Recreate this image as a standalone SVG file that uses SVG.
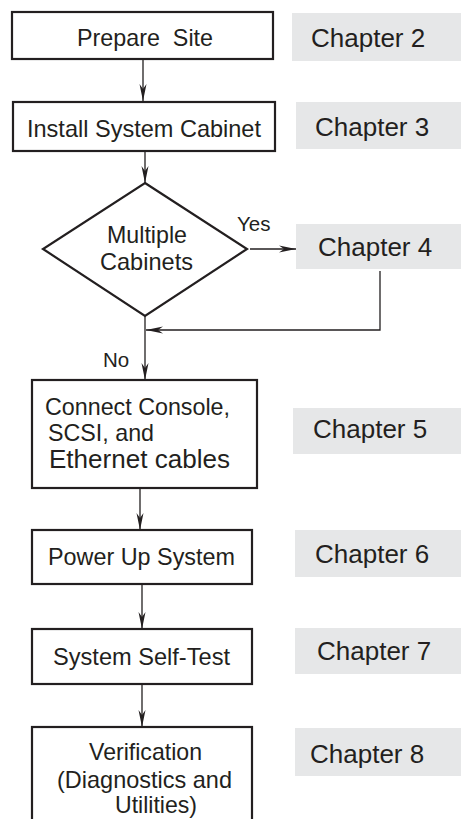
<svg xmlns="http://www.w3.org/2000/svg" width="461" height="819" viewBox="0 0 461 819">
<style>
.box{fill:#ffffff;stroke:#231f20;stroke-width:2.2}
.ch{fill:#e6e7e8;stroke:none}
.t{font-family:"Liberation Sans",Arial,sans-serif;font-size:23.4px;fill:#231f20}
.c{font-family:"Liberation Sans",Arial,sans-serif;font-size:26px;fill:#231f20}
.s{font-family:"Liberation Sans",Arial,sans-serif;font-size:20.5px;fill:#231f20}
.ln{fill:none;stroke:#231f20;stroke-width:1.3}
</style>
<defs>
<marker id="ah" viewBox="-17 -4 17 8" refX="0" refY="0" markerWidth="17" markerHeight="8" markerUnits="userSpaceOnUse" orient="auto">
<path d="M0,0 L-17,-3.5 L-12,0 L-17,3.5 Z" fill="#231f20"/>
</marker>
</defs>
<rect width="461" height="819" fill="#ffffff"/>
<g id="connectors">
<line class="ln" x1="143" y1="59" x2="143" y2="101" marker-end="url(#ah)"/>
<line class="ln" x1="145" y1="151" x2="145" y2="183" marker-end="url(#ah)"/>
<line class="ln" x1="250" y1="249" x2="296" y2="249" marker-end="url(#ah)"/>
<path class="ln" d="M380,271 V330 H146" marker-end="url(#ah)"/>
<line class="ln" x1="145" y1="316" x2="145" y2="380" marker-end="url(#ah)"/>
<line class="ln" x1="140" y1="488" x2="140" y2="530" marker-end="url(#ah)"/>
<line class="ln" x1="142" y1="584" x2="142" y2="629" marker-end="url(#ah)"/>
<line class="ln" x1="142" y1="684" x2="142" y2="727" marker-end="url(#ah)"/>
<text class="s" x="237" y="231">Yes</text>
<text class="s" x="103" y="367">No</text>
</g>
<g id="prepare">
<rect class="box" x="12" y="12" width="261" height="47"/>
<text class="t" x="77" y="46" textLength="136" lengthAdjust="spacingAndGlyphs" xml:space="preserve">Prepare  Site</text>
</g>
<g id="ch2">
<rect class="ch" x="292" y="13" width="169" height="48"/>
<text class="c" x="311" y="46.5">Chapter 2</text>
</g>
<g id="install">
<rect class="box" x="13" y="102" width="262" height="49"/>
<text class="t" x="27" y="137" textLength="234" lengthAdjust="spacingAndGlyphs">Install System Cabinet</text>
</g>
<g id="ch3">
<rect class="ch" x="296" y="102" width="165" height="47"/>
<text class="c" x="315" y="136">Chapter 3</text>
</g>
<g id="multiple">
<polygon class="box" points="145,183 247,249 145,316 43,249"/>
<text class="t" x="107" y="243" textLength="80" lengthAdjust="spacingAndGlyphs">Multiple</text>
<text class="t" x="100" y="270" textLength="93" lengthAdjust="spacingAndGlyphs">Cabinets</text>
</g>
<g id="ch4">
<rect class="ch" x="296" y="224" width="165" height="45"/>
<text class="c" x="318" y="256">Chapter 4</text>
</g>
<g id="connect">
<rect class="box" x="32" y="380" width="225" height="108"/>
<text class="t" x="45" y="415" textLength="185" lengthAdjust="spacingAndGlyphs">Connect Console,</text>
<text class="t" x="48" y="441" textLength="106" lengthAdjust="spacingAndGlyphs">SCSI, and</text>
<text class="t" x="49" y="468" style="font-size:25px" textLength="181" lengthAdjust="spacingAndGlyphs">Ethernet cables</text>
</g>
<g id="ch5">
<rect class="ch" x="293" y="408" width="168" height="46"/>
<text class="c" x="313" y="438">Chapter 5</text>
</g>
<g id="power">
<rect class="box" x="32" y="530" width="220" height="54"/>
<text class="t" x="48" y="565" textLength="187" lengthAdjust="spacingAndGlyphs">Power Up System</text>
</g>
<g id="ch6">
<rect class="ch" x="295" y="530" width="166" height="47"/>
<text class="c" x="315" y="563">Chapter 6</text>
</g>
<g id="selftest">
<rect class="box" x="32" y="629" width="220" height="55"/>
<text class="t" x="53" y="665" textLength="177" lengthAdjust="spacingAndGlyphs">System Self-Test</text>
</g>
<g id="ch7">
<rect class="ch" x="295" y="628" width="166" height="46"/>
<text class="c" x="317" y="660">Chapter 7</text>
</g>
<g id="verification">
<rect class="box" x="32" y="727" width="220" height="110"/>
<text class="t" x="89" y="760" textLength="113" lengthAdjust="spacingAndGlyphs">Verification</text>
<text class="t" x="57" y="788" textLength="175" lengthAdjust="spacingAndGlyphs">(Diagnostics and</text>
<text class="t" x="115" y="813" textLength="82" lengthAdjust="spacingAndGlyphs">Utilities)</text>
</g>
<g id="ch8">
<rect class="ch" x="295" y="728" width="166" height="48"/>
<text class="c" x="310" y="763">Chapter 8</text>
</g>
</svg>
